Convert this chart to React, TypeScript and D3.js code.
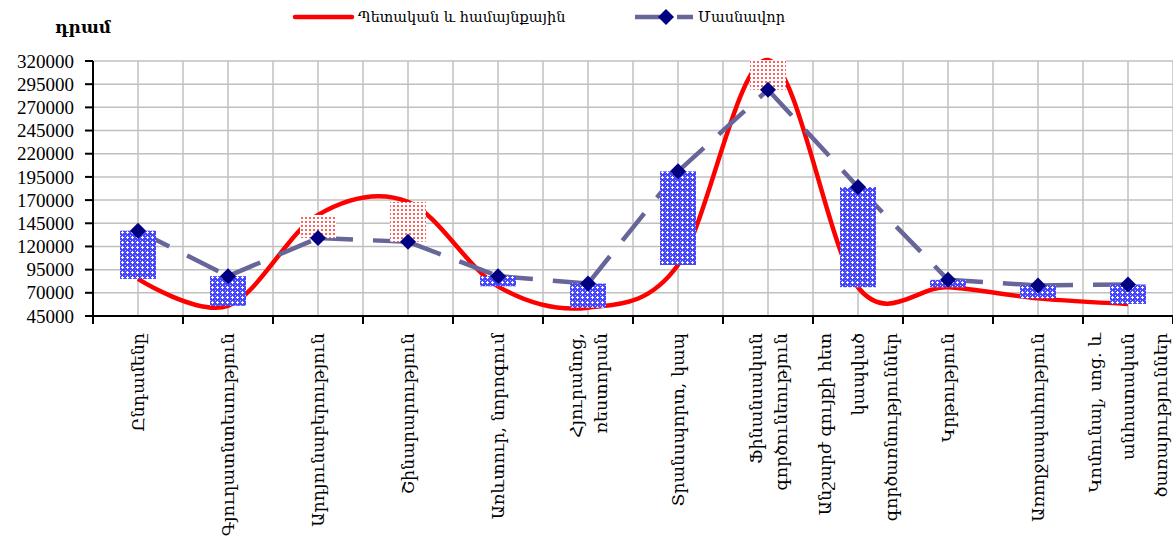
import * as d3 from 'd3';

// label lines for each category (rotated on the x axis)
const categories: string[][] = [
  ['Ընդամենը'],
  ['Գյուղատնտեսություն'],
  ['Արդյունաբերություն'],
  ['Շինարարություն'],
  ['Առևտուր, նորոգում'],
  ['Հյուրանոց,', 'ռեստորան'],
  ['Տրանսպորտ, կապ'],
  ['Ֆինանսական', 'գործունեություն'],
  ['Անշարժ գույքի հետ', 'կապված', 'գործառնություններ'],
  ['Կրթություն'],
  ['Առողջապահություն'],
  ['Կոմունալ, սոց. և', 'անհատական', 'ծառայություններ'],
];

const publicValues = [85000, 56000, 154000, 168000, 77000, 54000, 100000, 321000, 76000, 76000, 64000, 58000];
const privateValues = [137000, 88000, 129000, 125000, 88000, 80000, 201000, 289000, 184000, 84000, 78000, 79000];

const yTicks = [45000, 70000, 95000, 120000, 145000, 170000, 195000, 220000, 245000, 270000, 295000, 320000];

const publicLabel = 'Պետական և համայնքային';
const privateLabel = 'Մասնավոր';
const unitLabel = 'դրամ';

const W = 1173;
const H = 547;
const left = 93;
const right = 1173;
const top = 61;
const bottom = 316;

const armFont = '"DejaVu Serif", serif';
const numFont = '"Liberation Serif", "Times New Roman", serif';

export default function App() {
  const keys = categories.map((_, i) => String(i));
  const x = d3.scaleBand<string>().domain(keys).range([left, right]).padding(0);
  const y = d3.scaleLinear().domain([45000, 320000]).range([bottom, top]);
  const bw = x.bandwidth();
  const cx = (i: number) => (x(String(i)) ?? 0) + bw / 2;

  const redLine = d3
    .line<number>()
    .x((_, i) => cx(i))
    .y((d) => y(d))
    .curve(d3.curveCardinal.tension(0));

  const boundaries = d3.range(categories.length + 1).map((i) => left + i * bw);
  const centers = keys.map((_, i) => cx(i));

  const diamond = (px: number, py: number, r: number) =>
    `M${px},${py - r}L${px + r},${py}L${px},${py + r}L${px - r},${py}Z`;

  return (
    <svg width={W} height={H} style={{ position: 'absolute', left: 0, top: 0, background: '#fff' }}>
      <defs>
        <pattern id="bluePat" width="5" height="5" patternUnits="userSpaceOnUse">
          <rect width="5" height="5" fill="#4646ff" />
          <rect x="1" y="2" width="3" height="1" fill="#ffffff" />
          <rect x="2" y="1" width="1" height="3" fill="#ffffff" />
          <rect x="0" y="0" width="1" height="1" fill="#c8c8ff" />
        </pattern>
        <pattern id="redPat" width="4" height="4" patternUnits="userSpaceOnUse">
          <rect width="4" height="4" fill="#ffffff" />
          <rect x="1" y="1" width="2" height="2" fill="#ff6060" />
        </pattern>
      </defs>

      {/* grid */}
      {yTicks.map((t) => (
        <line key={'h' + t} x1={left} x2={right} y1={y(t)} y2={y(t)} stroke="#c0c0c0" strokeWidth={1.5} />
      ))}
      {[...boundaries.slice(1), ...centers].map((gx, i) => (
        <line key={'v' + i} x1={gx} x2={gx} y1={top} y2={bottom} stroke="#c0c0c0" strokeWidth={1.5} />
      ))}

      {/* public (smoothed) */}
      <path d={redLine(publicValues) ?? ''} fill="none" stroke="#ff0000" strokeWidth={4.5} />

      {/* private (dashed, per segment) */}
      {privateValues.slice(1).map((v, i) => (
        <line
          key={'p' + i}
          x1={cx(i)}
          y1={y(privateValues[i])}
          x2={cx(i + 1)}
          y2={y(v)}
          stroke="#666699"
          strokeWidth={4.5}
          strokeDasharray="35 20"
        />
      ))}

      {/* up/down bars */}
      {publicValues.map((pv, i) => {
        const qv = privateValues[i];
        const y0 = y(Math.max(pv, qv));
        const y1 = y(Math.min(pv, qv));
        return (
          <rect
            key={'b' + i}
            x={cx(i) - bw * 0.2}
            width={bw * 0.4}
            y={y0}
            height={y1 - y0}
            fill={pv > qv ? 'url(#redPat)' : 'url(#bluePat)'}
          />
        );
      })}

      {/* markers */}
      {privateValues.map((v, i) => (
        <path key={'m' + i} d={diamond(cx(i), y(v), 8)} fill="#000080" />
      ))}

      {/* axes */}
      <line x1={left} x2={left} y1={top} y2={bottom + 1} stroke="#000" strokeWidth={2} />
      <line x1={left} x2={right} y1={bottom} y2={bottom} stroke="#000" strokeWidth={2} />
      {yTicks.map((t) => (
        <g key={'yt' + t}>
          <line x1={left - 8} x2={left} y1={y(t)} y2={y(t)} stroke="#000" strokeWidth={2} />
          <text x={74} y={y(t)} dy="0.35em" textAnchor="end" fontFamily={numFont} fontSize={19} fill="#000">
            {t}
          </text>
        </g>
      ))}
      {boundaries.map((bx, i) => (
        <line key={'xt' + i} x1={bx} x2={bx} y1={bottom} y2={bottom + 8} stroke="#000" strokeWidth={2} />
      ))}

      {/* category labels */}
      {categories.map((lines, i) => {
        const spacing = lines.length > 2 ? 33 : 25;
        return lines.map((ln, j) => {
          const off = (j - (lines.length - 1) / 2) * spacing;
          return (
            <text
              key={'c' + i + '-' + j}
              transform={`translate(${cx(i) + off},${bottom + 17}) rotate(-90)`}
              textAnchor="end"
              dy="0.35em"
              fontFamily={armFont}
              fontSize={17.5}
              fill="#000"
            >
              {ln}
            </text>
          );
        });
      })}

      {/* unit label */}
      <text x={55} y={33} fontFamily={armFont} fontSize={17} fontWeight="bold" fill="#000">
        {unitLabel}
      </text>

      {/* legend */}
      <line x1={295} x2={352} y1={17} y2={17} stroke="#ff0000" strokeWidth={4.5} strokeLinecap="round" />
      <text x={358} y={17} dy="0.35em" fontFamily={armFont} fontSize={14.5} fill="#000">
        {publicLabel}
      </text>
      <line x1={635} x2={693} y1={17} y2={17} stroke="#666699" strokeWidth={4.5} strokeDasharray="25 17" />
      <path d={diamond(666, 17, 8)} fill="#000080" />
      <text x={698} y={17} dy="0.35em" fontFamily={armFont} fontSize={14.5} fill="#000">
        {privateLabel}
      </text>
    </svg>
  );
}
